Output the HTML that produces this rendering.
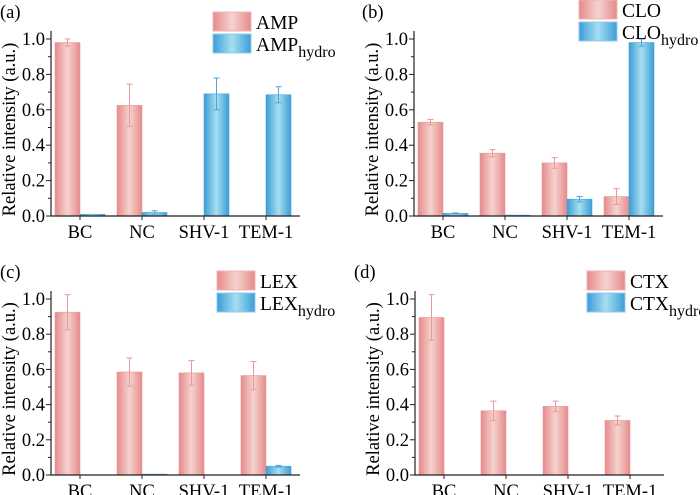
<!DOCTYPE html>
<html><head><meta charset="utf-8"><style>
body{margin:0;background:#fff}
svg{display:block;font-family:"Liberation Serif","Times New Roman",serif}
</style></head><body>
<svg id="c" width="700" height="495">
<defs>
<linearGradient id="gp" x1="0" x2="1"><stop offset="0" stop-color="#e58a8a"/><stop offset="0.5" stop-color="#f5d3cf"/><stop offset="1" stop-color="#e58a8a"/></linearGradient>
<linearGradient id="gb" x1="0" x2="1"><stop offset="0" stop-color="#3b9dd6"/><stop offset="0.5" stop-color="#a6def1"/><stop offset="1" stop-color="#3b9dd6"/></linearGradient>
</defs>
</svg>
<script>
const categories=["BC","NC","SHV-1","TEM-1"];
const yTicks=["0.0","0.2","0.4","0.6","0.8","1.0"];
const ampVals=[0.98,0.625,0,0];
const ampErr=[0.02,0.12,0,0];
const ampHydro=[0.01,0.02,0.69,0.685];
const ampHydroErr=[0,0.01,0.09,0.045];
const cloVals=[0.53,0.355,0.30,0.11];
const cloErr=[0.015,0.02,0.03,0.045];
const cloHydro=[0.015,0.005,0.095,0.98];
const cloHydroErr=[0.003,0,0.015,0.02];
const lexVals=[0.925,0.585,0.58,0.565];
const lexErr=[0.1,0.08,0.07,0.08];
const lexHydro=[0,0.005,0,0.05];
const lexHydroErr=[0,0,0,0.005];
const ctxVals=[0.895,0.365,0.39,0.31];
const ctxErr=[0.13,0.055,0.03,0.025];
const ctxHydro=[0,0,0,0];
const ctxHydroErr=[0,0,0,0];

const svg=document.getElementById('c');
const NS='http://www.w3.org/2000/svg';
function mk(tag,at,parent){const e=document.createElementNS(NS,tag);for(const k in at)e.setAttribute(k,at[k]);(parent||svg).appendChild(e);return e;}

function panel(o){
  const g=mk('g',{});
  
  
  const y=v=>o.y0-v*o.unit;
  const cx=i=>o.ax+29+i*62;
  for(let i=0;i<categories.length;i++){
    const sets=[[o.a,o.ae,'url(#gp)','#e89a9a',-25,o.name],[o.b,o.be,'url(#gb)','#49a6db',0,o.name+'-hydro']];
    for(const s of sets){
      const v=s[0][i];
      if(v>0){
        const r=mk('rect',{x:cx(i)+s[4],y:y(v),width:25,height:o.y0-y(v),fill:s[2],stroke:s[3],'stroke-width':0.6},g);
        
        
      }
      const e=s[1][i];
      if(e>0){
        const mx=cx(i)+s[4]+12.5;
        const p=mk('path',{d:`M${mx},${y(v+e)}V${y(v-e)}M${mx-3},${y(v+e)}H${mx+3}M${mx-3},${y(v-e)}H${mx+3}`,stroke:s[3],'stroke-width':1,fill:'none'},g);
        
        
      }
    }
  }
  const ax=mk('path',{d:`M${o.ax},${o.top}V${o.y0}H${o.ax+249}`,stroke:'#222','stroke-width':1.2,fill:'none'},g);
  
  
  for(let k=0;k<=10;k++){
    const ty=y(k/10);
    mk('line',{x1:o.ax-(k%2?3:5),x2:o.ax,y1:ty,y2:ty,stroke:'#222','stroke-width':1},g);
  }
  yTicks.forEach((t,k)=>{
    const tx=mk('text',{x:o.ax-6,y:y(k*0.2)+6,'text-anchor':'end','font-size':18.5},g);
    tx.textContent=t;
    
    
  });
  categories.forEach((c,i)=>{
    mk('line',{x1:cx(i),x2:cx(i),y1:o.y0,y2:o.y0+4,stroke:'#222'},g);
    const tx=mk('text',{x:cx(i),y:o.y0+22,'text-anchor':'middle','font-size':18.5},g);
    tx.textContent=c;
    
    
  });
  const yl=mk('text',{x:0,y:0,transform:`translate(${o.ax-36},${(o.y0+o.top)/2+6}) rotate(-90)`,'text-anchor':'middle','font-size':18.5},g);
  yl.textContent='Relative intensity (a.u.)';
  
  
  const pl=mk('text',{x:o.px,y:o.py,'font-size':18.5},g);
  pl.textContent='('+o.id+')';
  
  
  const l1=mk('rect',{x:o.lx,y:o.ly,width:38,height:19,fill:'url(#gp)',stroke:'#f2b3b3'},g);
  
  
  const l2=mk('rect',{x:o.lx,y:o.ly+22,width:38,height:19,fill:'url(#gb)',stroke:'#8ccbec'},g);
  
  
  const t1=mk('text',{x:o.lx+43,y:o.ly+17,'font-size':19.5},g);
  t1.textContent=o.label;
  
  
  const t2=mk('text',{x:o.lx+43,y:o.ly+39,'font-size':19.5},g);
  t2.textContent=o.label;
  
  
  const ts=mk('tspan',{'font-size':16,dy:6},t2);
  ts.textContent='hydro';
}
panel({id:'a',name:'amp',label:'AMP',a:ampVals,ae:ampErr,b:ampHydro,be:ampHydroErr,ax:51,y0:216,unit:177,top:31,px:0,py:18,lx:213,ly:12});
panel({id:'b',name:'clo',label:'CLO',a:cloVals,ae:cloErr,b:cloHydro,be:cloHydroErr,ax:414,y0:216,unit:177,top:31,px:362,py:18,lx:579,ly:0});
panel({id:'c',name:'lex',label:'LEX',a:lexVals,ae:lexErr,b:lexHydro,be:lexHydroErr,ax:51,y0:475,unit:176,top:291,px:0,py:278,lx:217,ly:271});
panel({id:'d',name:'ctx',label:'CTX',a:ctxVals,ae:ctxErr,b:ctxHydro,be:ctxHydroErr,ax:415,y0:475,unit:176,top:291,px:354,py:278,lx:587,ly:271});
</script>
</body></html>
